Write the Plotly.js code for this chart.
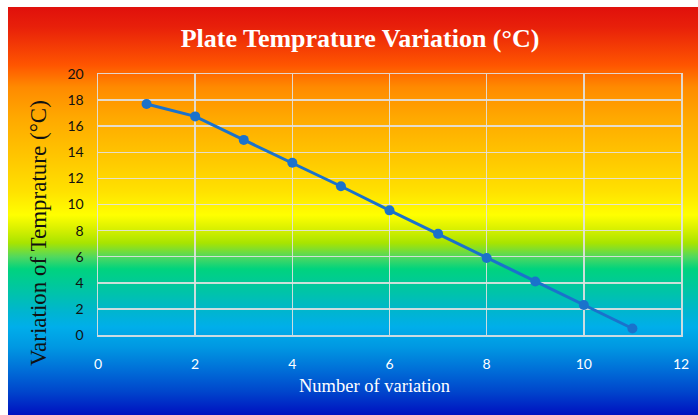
<!DOCTYPE html>
<html>
<head>
<meta charset="utf-8">
<script src="https://cdn.plot.ly/plotly-3.0.1.min.js"></script>
<style>
html,body{margin:0;padding:0;background:#fff;}
#wrap{position:relative;width:698px;height:415px;overflow:hidden;}
#bg{position:absolute;left:8px;top:7px;right:0;bottom:0;
background:linear-gradient(to bottom,
#e0100c 0px, #e8200a 20px, #ff5500 58px, #ff8a00 80px, #ffa800 110px, #ffc600 150px,
#ffe200 185px, #ffff00 208px, #d8f000 222px, #a8e400 236px, #50d860 250px, #00d37e 262px,
#00c4a8 285px, #00b5d0 305px, #00aeea 320px, #0098e2 340px, #0070d8 362px, #0045cc 385px, #0010c0 408px);}
#plot{position:absolute;left:0;top:0;width:698px;height:415px;}
</style>
</head>
<body>
<div id="wrap"><div id="bg"></div><div id="plot"></div></div>
<script>
var xValues = [1, 2, 3, 4, 5, 6, 7, 8, 9, 10, 11];
var yValues = [17.7, 16.75, 14.95, 13.2, 11.4, 9.55, 7.75, 5.9, 4.1, 2.3, 0.5];
var chartTitle = "Plate Temprature Variation (°C)";
var xTitle = "Number of variation";
var yTitle = "Variation of Temprature (°C)";

var trace = {
  x: xValues, y: yValues, type: 'scatter', mode: 'lines+markers',
  line: {color: '#1a72cc', width: 3},
  marker: {color: '#1a72cc', size: 10},
  hoverinfo: 'none'
};

var layout = {
  width: 698, height: 415,
  margin: {l: 98, r: 17, t: 74, b: 80},
  paper_bgcolor: 'rgba(0,0,0,0)',
  plot_bgcolor: 'rgba(0,0,0,0)',
  showlegend: false,
  title: {text: '<b>' + chartTitle + '</b>', x: 360/698, xref: 'container', xanchor: 'center',
          y: 1 - 38/415, yref: 'container', yanchor: 'middle',
          font: {family: 'Liberation Serif, Times New Roman, serif', size: 26, color: '#ffffff'}},
  xaxis: {range: [0, 12], dtick: 2, tick0: 0, showgrid: true, gridcolor: 'rgba(225,225,225,0.9)', gridwidth: 1.5,
          zeroline: false, showline: true, linecolor: 'rgba(225,225,225,0.9)', linewidth: 1.5, mirror: true,
          ticks: 'outside', ticklen: 16, tickcolor: 'rgba(0,0,0,0)',
          tickfont: {family: 'Lato, Open Sans, sans-serif', size: 14, color: '#ffffff'}, fixedrange: true},
  yaxis: {range: [0, 20], dtick: 2, tick0: 0, showgrid: true, gridcolor: 'rgba(225,225,225,0.9)', gridwidth: 1.5,
          zeroline: false, showline: true, linecolor: 'rgba(225,225,225,0.9)', linewidth: 1.5, mirror: true,
          ticks: 'outside', ticklen: 10, tickcolor: 'rgba(0,0,0,0)',
          tickfont: {family: 'Lato, Open Sans, sans-serif', size: 14, color: '#111111'}, fixedrange: true},
  annotations: [
    {text: xTitle, xref: 'paper', yref: 'paper', x: (374-98)/583, y: -(386-335)/261,
     xanchor: 'center', yanchor: 'middle', showarrow: false,
     font: {family: 'Liberation Serif, Times New Roman, serif', size: 18.5, color: '#ffffff'}},
    {text: yTitle, xref: 'paper', yref: 'paper', x: -(98-38)/583, y: (335-233)/261,
     xanchor: 'center', yanchor: 'middle', textangle: -90, showarrow: false,
     font: {family: 'Liberation Serif, Times New Roman, serif', size: 23, color: '#111111'}}
  ]
};

Plotly.newPlot('plot', [trace], layout, {displayModeBar: false, staticPlot: true});
</script>
</body>
</html>
